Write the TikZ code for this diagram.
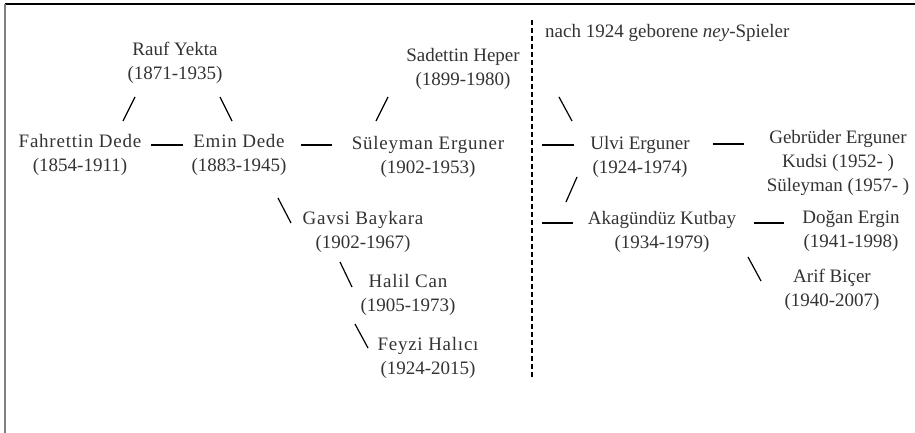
\documentclass[tikz,border=0pt]{standalone}
\usepackage{fontspec}
\setmainfont{Liberation Serif}
\usepackage{tikz}
\usetikzlibrary{calc}

\newcommand{\largo}[1]{{\addfontfeature{LetterSpace=4}#1}}

\tikzset{
  persona/.style={align=center, text=black!80, font=\fontsize{19}{24}\selectfont, inner sep=0pt},
  legame/.style={line width=1.2pt},
}

\begin{document}
\begin{tikzpicture}[x=1pt, y=-1pt]
  \useasboundingbox (0,0) rectangle (915,433);

  % Cornice
  \draw[line width=1.5pt] (5,4) -- (915,4);
  \draw[gray, line width=1.5pt] (5,4) -- (5,433);

  % Maestri prima del 1924
  \node[persona] (rauf)  at (175,62.5) {Rauf Yekta\\(1871-1935)};
  \node[persona] (fahr)  at (80,155)   {\largo{Fahrettin Dede}\\(1854-1911)};
  \node[persona] (emin)  at (239,155)  {\largo{Emin Dede}\\(1883-1945)};
  \node[persona] (sadet) at (463,69)   {Sadettin Heper\\(1899-1980)};
  \node[persona] (sule)  at (428,156.5) {\largo{Süleyman Erguner}\\(1902-1953)};
  \node[persona] (gavsi) at (363,232)  {\largo{Gavsi Baykara}\\(1902-1967)};
  \node[persona] (halil) at (408,294.5) {\largo{Halil Can}\\(1905-1973)};
  \node[persona] (feyzi) at (428,358)  {\largo{Feyzi Halıcı}\\(1924-2015)};

  % Linea di separazione
  \coordinate (grenze) at (532,20);
  \coordinate (grenzefine) at (532,377);
  \draw[line width=1.2pt, dash pattern=on 5pt off 3pt] (grenze) -- (grenzefine);
  \node[persona, anchor=west] (titel) at (545,33) {nach 1924 geborene \textit{ney}-Spieler};

  % Dopo il 1924
  \node[persona] (ulvi)  at (640,156.5) {Ulvi Erguner\\(1924-1974)};
  \node[persona] (gebr)  at (838,162.5) {Gebrüder Erguner\\Kudsi (1952- )\\Süleyman (1957- )};
  \node[persona] (akag)  at (662,231.5) {Akagündüz Kutbay\\(1934-1979)};
  \node[persona] (dogan) at (851,231.5) {Doğan Ergin\\(1941-1998)};
  \node[persona] (arif)  at (832,290)   {Arif Biçer\\(1940-2007)};

  % Legami
  \draw[legame] ($(rauf)+(-40,34.5)$) -- ($(fahr)+(43,-34)$);
  \draw[legame] ($(rauf)+(45,34.5)$) -- ($(emin)+(-7,-34)$);
  \draw[legame] ($(fahr)+(71,-10)$) -- ($(emin)+(-56,-10)$);
  \draw[legame] ($(emin)+(62,-10)$) -- ($(sule)+(-96,-11.5)$);
  \draw[legame] ($(sadet)+(-75,28)$) -- ($(sule)+(-52,-35.5)$);
  \draw[legame] ($(emin)+(39,43)$) -- ($(gavsi)+(-72,-9)$);
  \draw[legame] ($(gavsi)+(-23,30)$) -- ($(halil)+(-56,-7.5)$);
  \draw[legame] ($(halil)+(-53,29.5)$) -- ($(feyzi)+(-60,-10)$);
  \draw[legame] ($(sadet)+(96,28)$) -- ($(ulvi)+(-68,-35.5)$);
  \draw[legame] ($(grenze)+(10,125)$) -- ($(ulvi)+(-66,-11.5)$);
  \draw[legame] ($(ulvi)+(-63,20.5)$) -- ($(akag)+(-96,-29.5)$);
  \draw[legame] ($(grenze)+(10,203)$) -- ($(akag)+(-89,-8.5)$);
  \draw[legame] ($(ulvi)+(73,-12.5)$) -- ($(gebr)+(-94,-18.5)$);
  \draw[legame] ($(akag)+(92,-8.5)$) -- ($(dogan)+(-67,-8.5)$);
  \draw[legame] ($(akag)+(86,25.5)$) -- ($(arif)+(-71,-9)$);
\end{tikzpicture}
\end{document}
